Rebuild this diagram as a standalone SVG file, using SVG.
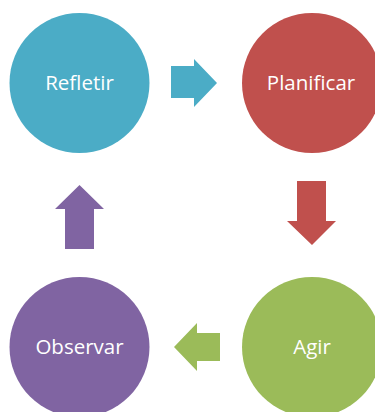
<svg xmlns="http://www.w3.org/2000/svg" width="375" height="412" viewBox="0 0 375 412">
<style>
.lbl{font-family:"Open Sans","Noto Sans",sans-serif;font-size:20.5px;fill:#fff;text-anchor:middle}
</style>
<rect width="375" height="412" fill="#fff"/>
<g id="refletir"><circle cx="79.5" cy="83" r="70" fill="#4BACC6"/><text class="lbl" x="79.5" y="89.5">Refletir</text></g>
<g id="planificar"><circle cx="312" cy="83" r="70" fill="#C0504D"/><text class="lbl" x="311" y="89.5">Planificar</text></g>
<g id="agir"><circle cx="312" cy="347" r="70" fill="#9BBB59"/><text class="lbl" x="312" y="353.5">Agir</text></g>
<g id="observar"><circle cx="79.5" cy="347" r="70" fill="#8064A2"/><text class="lbl" x="79.5" y="353.5">Observar</text></g>
<g id="connectors">
<polygon points="171,66 194,66 194,59 217,83 194,107 194,98 171,98" fill="#4BACC6"/>
<polygon points="297,181 326,181 326,221 336,221 312,245 287,221 297,221" fill="#C0504D"/>
<polygon points="220,333 197,333 197,323 174,347 197,371 197,361 220,361" fill="#9BBB59"/>
<polygon points="65,249 94,249 94,209 104,209 79.5,185 55,209 65,209" fill="#8064A2"/>
</g>
</svg>
